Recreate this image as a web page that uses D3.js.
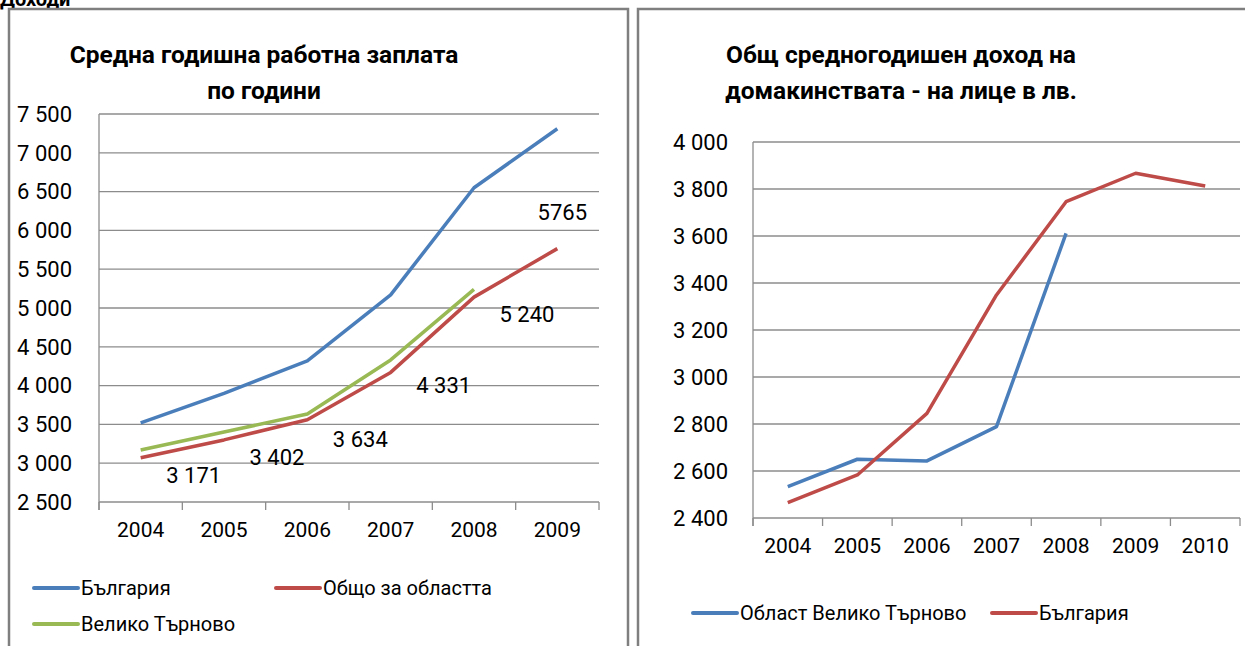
<!DOCTYPE html>
<html>
<head>
<meta charset="utf-8">
<script src="https://cdn.jsdelivr.net/npm/d3@7"></script>
<style>
  body { margin: 0; background: #fff; }
  svg text { font-family: Roboto, 'Open Sans', sans-serif; fill: #000; }
</style>
</head>
<body>
<script>
// ляв график - средна годишна заплата
const years1 = [2004, 2005, 2006, 2007, 2008, 2009]
const bulgaria1 = [3520, 3900, 4320, 5170, 6550, 7310]
const oblast1 = [3070, 3300, 3560, 4170, 5140, 5765]
const vt1 = [3171, 3402, 3634, 4331, 5240, null]
const yTicks1 = [2500, 3000, 3500, 4000, 4500, 5000, 5500, 6000, 6500, 7000, 7500]
const labels1 = ['3 171', '3 402', '3 634', '4 331', '5 240', null]
const names1 = ['България', 'Общо за областта', 'Велико Търново']

// десен график - доход на лице
const years2 = [2004, 2005, 2006, 2007, 2008, 2009, 2010]
const vtRegion2 = [2533, 2650, 2643, 2789, 3611, null, null]
const bulgaria2 = [2465, 2583, 2845, 3349, 3746, 3867, 3813]
const yTicks2 = [2400, 2600, 2800, 3000, 3200, 3400, 3600, 3800, 4000]
const names2 = ['Област Велико Търново', 'България']

const colors = { blue: '#4a7ebb', red: '#be4b48', green: '#98b954' }
const fmt = v => d3.format(',')(v).replace(',', '\u00a0')

const svg = d3.select('body').append('svg')
  .attr('width', 1245)
  .attr('height', 646)

// заглавие на раздела, отрязано отгоре
svg.append('text')
  .attr('x', 0).attr('y', 6)
  .style('font-size', '20px').style('font-weight', 'bold')
  .text('Доходи')

// рамки
svg.append('rect').attr('x', 9).attr('y', 9).attr('width', 619).attr('height', 660)
  .attr('fill', 'none').attr('stroke', '#7f7f7f').attr('stroke-width', 2.5)
svg.append('rect').attr('x', 638).attr('y', 9).attr('width', 620).attr('height', 660)
  .attr('fill', 'none').attr('stroke', '#7f7f7f').attr('stroke-width', 2.5)

function drawChart(cfg) {
  const g = svg.append('g')

  const x = d3.scaleBand().domain(cfg.years).range([cfg.left, cfg.right])
  const y = d3.scaleLinear().domain(d3.extent(cfg.ticks)).range([cfg.bottom, cfg.top])
  const cx = d => x(d) + x.bandwidth() / 2

  // заглавие
  g.selectAll('.title').data(cfg.title).enter().append('text')
    .attr('x', cfg.titleX)
    .attr('y', (d, i) => cfg.titleY + i * 36)
    .attr('text-anchor', 'middle')
    .style('font-size', '24.5px').style('font-weight', 'bold')
    .text(d => d)

  // хоризонтални линии
  g.selectAll('.grid').data(cfg.ticks).enter().append('line')
    .attr('x1', cfg.left).attr('x2', cfg.right)
    .attr('y1', d => y(d)).attr('y2', d => y(d))
    .attr('stroke', '#8c8c8c').attr('stroke-width', 1.3)

  g.selectAll('.ylab').data(cfg.ticks).enter().append('text')
    .attr('x', cfg.labelX)
    .attr('y', d => y(d))
    .attr('dy', '0.35em')
    .attr('text-anchor', 'end')
    .style('font-size', '22px')
    .text(fmt)

  // оси
  g.append('line')
    .attr('x1', cfg.left).attr('x2', cfg.left)
    .attr('y1', cfg.top).attr('y2', cfg.bottom + 8)
    .attr('stroke', '#8c8c8c').attr('stroke-width', 1.3)

  const bounds = cfg.years.map(d => x(d) + x.bandwidth()).concat([cfg.left])
  g.selectAll('.tick').data(bounds).enter().append('line')
    .attr('x1', d => d).attr('x2', d => d)
    .attr('y1', cfg.bottom).attr('y2', cfg.bottom + 8)
    .attr('stroke', '#8c8c8c').attr('stroke-width', 1.3)

  g.selectAll('.xlab').data(cfg.years).enter().append('text')
    .attr('x', cx)
    .attr('y', cfg.bottom + 35)
    .attr('text-anchor', 'middle')
    .style('font-size', '21px')
    .text(d => d)

  const line = d3.line()
    .defined(d => d.v != null)
    .x(d => cx(d.year))
    .y(d => y(d.v))

  cfg.series.forEach(s => {
    g.append('path')
      .datum(cfg.years.map((year, i) => ({ year, v: s.values[i] })))
      .attr('d', line)
      .attr('fill', 'none')
      .attr('stroke', s.color)
      .attr('stroke-width', 3.5)
      .attr('stroke-linejoin', 'round')
  })

  return { x, y, cx, g }
}

const c1 = drawChart({
  years: years1, ticks: yTicks1,
  left: 99, right: 599, top: 114, bottom: 502, labelX: 72,
  title: ['Средна годишна работна заплата', 'по години'], titleX: 264, titleY: 63,
  series: [
    { values: bulgaria1, color: colors.blue },
    { values: oblast1, color: colors.red },
    { values: vt1, color: colors.green }
  ]
})

// етикети на стойностите
c1.g.selectAll('.dlab').data(labels1.filter(d => d)).enter().append('text')
  .attr('x', (d, i) => c1.cx(years1[i]) + 53)
  .attr('y', (d, i) => c1.y(vt1[i]) + 25)
  .attr('dy', '0.35em')
  .attr('text-anchor', 'middle')
  .style('font-size', '22px')
  .text(d => d)

c1.g.append('text')
  .attr('x', c1.cx(2009) + 5)
  .attr('y', c1.y(oblast1[5]) - 36)
  .attr('dy', '0.35em')
  .attr('text-anchor', 'middle')
  .style('font-size', '22px')
  .text(oblast1[5])

const c2 = drawChart({
  years: years2, ticks: yTicks2,
  left: 753, right: 1240, top: 142, bottom: 518, labelX: 728,
  title: ['Общ средногодишен доход на', 'домакинствата - на лице в лв.'], titleX: 901, titleY: 63,
  series: [
    { values: vtRegion2, color: colors.blue },
    { values: bulgaria2, color: colors.red }
  ]
})

// легенди
function legend(items) {
  items.forEach(it => {
    svg.append('line')
      .attr('x1', it.x).attr('x2', it.x + 44)
      .attr('y1', it.y).attr('y2', it.y)
      .attr('stroke', it.color).attr('stroke-width', 4).attr('stroke-linecap', 'round')
    svg.append('text')
      .attr('x', it.x + 47).attr('y', it.y)
      .attr('dy', '0.35em')
      .style('font-size', '20px')
      .text(it.name)
  })
}

legend([
  { name: names1[0], color: colors.blue, x: 34, y: 588 },
  { name: names1[1], color: colors.red, x: 276, y: 588 },
  { name: names1[2], color: colors.green, x: 34, y: 624 },
  { name: names2[0], color: colors.blue, x: 693, y: 613 },
  { name: names2[1], color: colors.red, x: 992, y: 613 }
])
</script>
</body>
</html>
